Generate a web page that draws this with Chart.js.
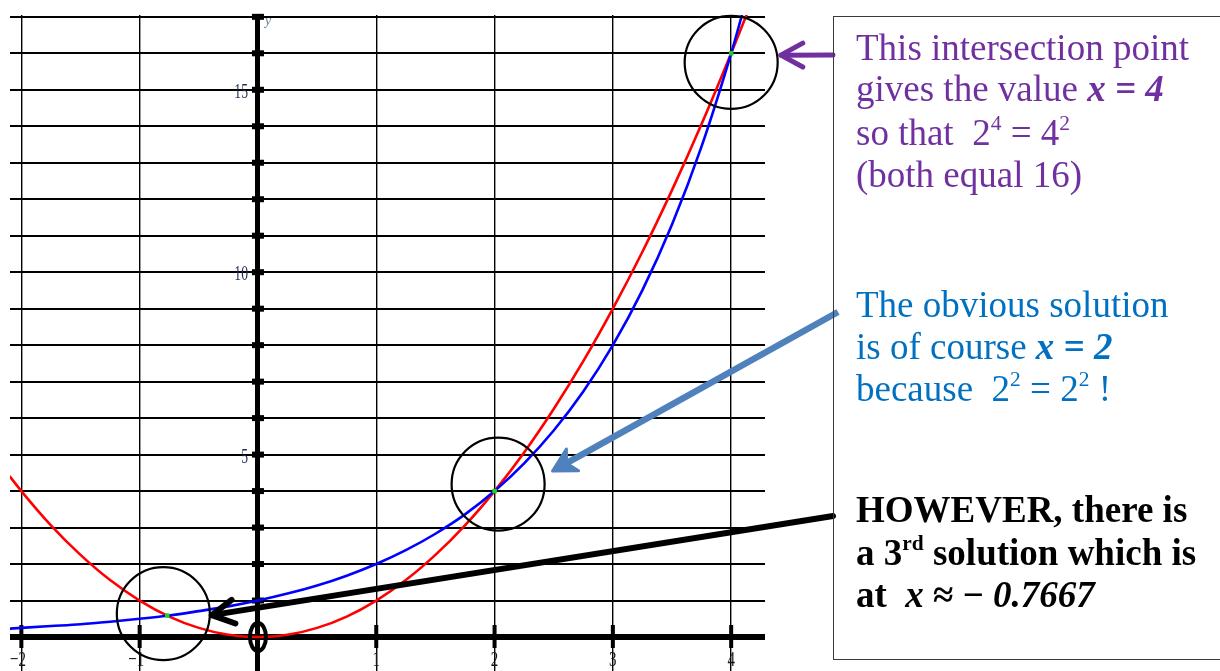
<!DOCTYPE html>
<html>
<head>
<meta charset="utf-8">
<title>2^x = x^2</title>
<script src="https://cdn.jsdelivr.net/npm/chart.js@4.4.1/dist/chart.umd.min.js"></script>
<style>
  body { margin: 0; background: #fff; }
  #wrap { position: relative; width: 1220px; height: 671px; overflow: hidden; }
  #graph { position: absolute; left: 0; top: 0; }
  #note { position: absolute; left: 833px; top: 16px; width: 420px; height: 644px;
          border: 1.5px solid #3a3a3a; box-sizing: border-box; }
  .ln { position: absolute; left: 856px; white-space: nowrap;
        font-family: "Liberation Serif", "Times New Roman", serif;
        font-size: 37px; line-height: 42px; }
  .sup { font-size: 0.58em; position: relative; top: -0.7em; }
  .purple { color: #7030a0; }
  .blue { color: #0070c0; }
  .black { color: #000; font-weight: bold; }
</style>
</head>
<body>
<div id="wrap">
  <canvas id="graph" width="1220" height="671"></canvas>
  <div id="note"></div>

  <div class="ln purple" style="top:27px">This intersection point</div>
  <div class="ln purple" style="top:68px">gives the value <b><i>x = 4</i></b></div>
  <div class="ln purple" style="top:112px">so that&nbsp; 2<span class="sup">4</span> = 4<span class="sup">2</span></div>
  <div class="ln purple" style="top:154px">(both equal 16)</div>

  <div class="ln blue" style="top:284px">The obvious solution</div>
  <div class="ln blue" style="top:326px">is of course <b><i>x = 2</i></b></div>
  <div class="ln blue" style="top:368px">because&nbsp; 2<span class="sup">2</span> = 2<span class="sup">2</span> !</div>

  <div class="ln black" style="top:489px">HOWEVER, there is</div>
  <div class="ln black" style="top:532px">a 3<span class="sup">rd</span> solution which is</div>
  <div class="ln black" style="top:574px">at&nbsp; <i>x</i> ≈ − <i>0.7667</i></div>
</div>

<script>
// red curve: y = x^2
var redX = [-2.1, -2, -1.75, -1.5, -1.25, -1, -0.75, -0.5, -0.25, 0, 0.25, 0.5, 0.75, 1,
            1.25, 1.5, 1.75, 2, 2.25, 2.5, 2.75, 3, 3.25, 3.5, 3.75, 4, 4.15];
var redY = [4.41, 4, 3.06, 2.25, 1.56, 1, 0.56, 0.25, 0.06, 0, 0.06, 0.25, 0.56, 1,
            1.56, 2.25, 3.06, 4, 5.06, 6.25, 7.56, 9, 10.56, 12.25, 14.06, 16, 17.22];

// blue curve: y = 2^x
var blueX = [-2.1, -2, -1.75, -1.5, -1.25, -1, -0.75, -0.5, -0.25, 0, 0.25, 0.5, 0.75, 1,
             1.25, 1.5, 1.75, 2, 2.25, 2.5, 2.75, 3, 3.25, 3.5, 3.75, 4, 4.1];
var blueY = [0.23, 0.25, 0.3, 0.35, 0.42, 0.5, 0.59, 0.71, 0.84, 1, 1.19, 1.41, 1.68, 2,
             2.38, 2.83, 3.36, 4, 4.76, 5.66, 6.73, 8, 9.51, 11.31, 13.45, 16, 17.15];

// where the two curves meet
var crossX = [-0.7667, 2, 4];
var crossY = [0.5877, 4, 16];

// tick labels
var xTickLabels = { '-2': '−2', '-1': '−1', '1': '1', '2': '2', '3': '3', '4': '4' };
var yTickLabels = { '5': '5', '10': '10', '15': '15' };

// rings drawn round the meeting points (data coords) and the arrows pointing at them
var ringX = [-0.8, 2.03, 4.0];
var ringY = [0.64, 4.19, 15.75];
var arrowTipX = [4.42, 2.49, -0.39];
var arrowTipY = [15.95, 4.55, 0.6];

function pts(xs, ys) {
  return xs.map(function (x, i) { return { x: x, y: ys[i] }; });
}

function arrowHead(tx, ty, ang, len, spread) {
  var a1 = ang + spread, a2 = ang - spread;
  return [[tx + len * Math.cos(a1), ty + len * Math.sin(a1)],
          [tx + len * Math.cos(a2), ty + len * Math.sin(a2)]];
}

var extras = {
  id: 'extras',
  beforeDatasetsDraw: function (chart) {
    var ctx = chart.ctx, xs = chart.scales.x, ys = chart.scales.y;
    var x0 = xs.getPixelForValue(0), y0 = ys.getPixelForValue(0);
    ctx.save();
    ctx.fillStyle = '#000';
    // little square ticks on the y axis
    for (var v = 1; v <= 17; v++) {
      var py = ys.getPixelForValue(v);
      ctx.fillRect(x0 - 6, py - 3, 12, 6);
    }
    // bars on the x axis
    xs.ticks.forEach(function (t) {
      if (t.value === 0) return;
      var px = xs.getPixelForValue(t.value);
      ctx.fillRect(px - 2, y0 - 12, 4, 23);
    });
    // tick labels, narrow serif
    ctx.font = '22px "Liberation Serif", serif';
    ctx.textBaseline = 'alphabetic';
    xs.ticks.forEach(function (t) {
      var lab = xTickLabels[String(t.value)];
      if (!lab) return;
      var px = xs.getPixelForValue(t.value);
      ctx.save();
      ctx.translate(px, y0 + 29);
      ctx.scale(0.68, 1);
      ctx.fillStyle = '#1a1512';
      ctx.textAlign = 'center';
      if (t.value < 0) ctx.translate(-5, 0);
      ctx.fillText(lab, 0, 0);
      ctx.restore();
    });
    ctx.font = '21px "Liberation Serif", serif';
    ys.ticks.forEach(function (t) {
      var lab = yTickLabels[String(t.value)];
      if (!lab) return;
      var py = ys.getPixelForValue(t.value);
      ctx.save();
      ctx.translate(x0 - 10, py + 8);
      ctx.scale(0.65, 1);
      ctx.fillStyle = '#1e2a55';
      ctx.textAlign = 'right';
      ctx.fillText(lab, 0, 0);
      ctx.restore();
    });
    ctx.font = 'italic 14px "Liberation Serif", serif';
    ctx.fillStyle = '#6f7f9f';
    ctx.textAlign = 'left';
    ctx.fillText('y', x0 + 7, ys.getPixelForValue(17) + 8);
    ctx.restore();
  },
  afterDatasetsDraw: function (chart) {
    var ctx = chart.ctx, xs = chart.scales.x, ys = chart.scales.y;
    var x0 = xs.getPixelForValue(0), y0 = ys.getPixelForValue(0);
    ctx.save();
    // the oval at the origin
    ctx.strokeStyle = '#000';
    ctx.lineWidth = 4;
    ctx.beginPath();
    ctx.ellipse(x0, y0, 8, 14, 0, 0, Math.PI * 2);
    ctx.stroke();

    // rings
    ctx.lineWidth = 2.2;
    ringX.forEach(function (rx, i) {
      ctx.beginPath();
      ctx.arc(xs.getPixelForValue(rx), ys.getPixelForValue(ringY[i]), 46.5, 0, Math.PI * 2);
      ctx.stroke();
    });

    var boxLeft = 833;
    var tails = [[boxLeft, 55], [838, 312], [boxLeft, 516]];
    var colors = ['#7030a0', '#4f81bd', '#000'];
    var widths = [5, 6.5, 6];
    ctx.lineCap = 'round';
    ctx.lineJoin = 'round';
    for (var i = 0; i < 3; i++) {
      var tx = xs.getPixelForValue(arrowTipX[i]), ty = ys.getPixelForValue(arrowTipY[i]);
      var sx = tails[i][0], sy = tails[i][1];
      var ang = Math.atan2(sy - ty, sx - tx);
      ctx.strokeStyle = colors[i];
      ctx.fillStyle = colors[i];
      ctx.lineWidth = widths[i];
      if (i === 1) {
        // filled head
        var nx = tx + 12 * Math.cos(ang), ny = ty + 12 * Math.sin(ang);
        ctx.lineCap = 'butt';
        ctx.beginPath();
        ctx.moveTo(sx, sy);
        ctx.lineTo(nx, ny);
        ctx.stroke();
        var h = arrowHead(tx, ty, ang, 26, 0.5);
        ctx.beginPath();
        ctx.moveTo(tx, ty);
        ctx.lineTo(h[0][0], h[0][1]);
        ctx.lineTo(tx + 16 * Math.cos(ang), ty + 16 * Math.sin(ang));
        ctx.lineTo(h[1][0], h[1][1]);
        ctx.closePath();
        ctx.lineWidth = 3;
        ctx.fill();
        ctx.stroke();
        ctx.lineCap = 'round';
      } else {
        ctx.beginPath();
        ctx.moveTo(sx, sy);
        ctx.lineTo(tx, ty);
        ctx.stroke();
        var hd = arrowHead(tx, ty, ang, 25, 0.5);
        ctx.beginPath();
        ctx.moveTo(hd[0][0], hd[0][1]);
        ctx.lineTo(tx, ty);
        ctx.lineTo(hd[1][0], hd[1][1]);
        ctx.stroke();
      }
    }
    ctx.restore();
  }
};

var ctx = document.getElementById('graph');
var chart = new Chart(ctx, {
  type: 'scatter',
  data: {
    datasets: [
      {
        label: 'meeting points',
        data: pts(crossX, crossY),
        pointStyle: 'rect',
        pointRadius: 3.2,
        backgroundColor: '#1fd01f',
        borderColor: '#1fd01f',
        borderWidth: 0,
        order: 0
      },
      {
        label: 'y = 2^x',
        data: pts(blueX, blueY),
        showLine: true,
        borderColor: '#0000ff',
        borderWidth: 2.6,
        pointRadius: 0,
        cubicInterpolationMode: 'monotone',
        order: 1
      },
      {
        label: 'y = x^2',
        data: pts(redX, redY),
        showLine: true,
        borderColor: '#ff0000',
        borderWidth: 2.6,
        pointRadius: 0,
        cubicInterpolationMode: 'monotone',
        order: 2
      }
    ]
  },
  options: {
    responsive: false,
    animation: false,
    events: [],
    layout: { autoPadding: false, padding: { left: 10, right: 455, top: 15, bottom: 0 } },
    plugins: { legend: { display: false }, tooltip: { enabled: false } },
    scales: {
      x: {
        type: 'linear',
        min: -2.096,
        max: 4.286,
        border: { display: false },
        ticks: { display: false, stepSize: 1, includeBounds: false },
        grid: {
          drawTicks: false,
          color: '#000',
          lineWidth: function (c) { return c.tick && c.tick.value === 0 ? 5 : 1.4; }
        }
      },
      y: {
        type: 'linear',
        min: -0.932,
        max: 17.05,
        border: { display: false },
        ticks: { display: false, stepSize: 1, includeBounds: false },
        grid: {
          drawTicks: false,
          color: '#000',
          lineWidth: function (c) { return c.tick && c.tick.value === 0 ? 6 : 2; }
        }
      }
    }
  },
  plugins: [extras]
});
</script>
</body>
</html>
